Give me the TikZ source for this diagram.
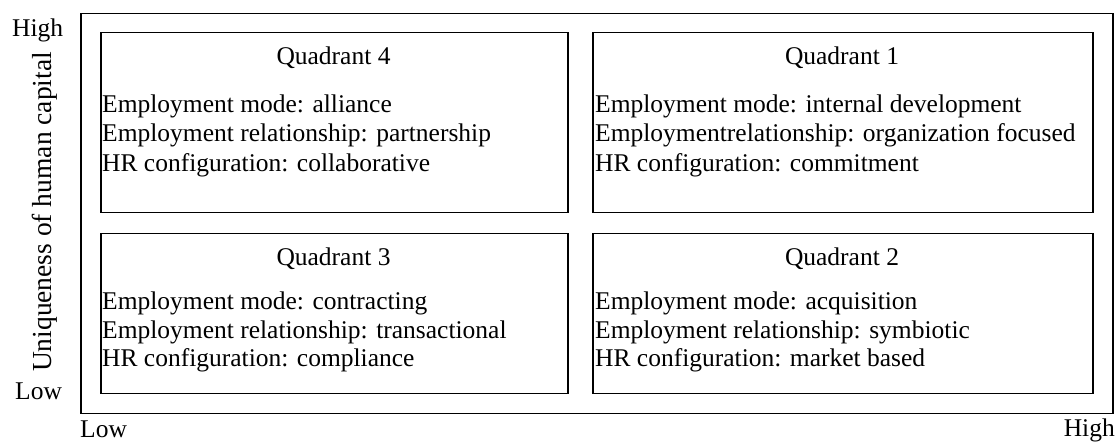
\documentclass[tikz,border=0pt]{standalone}
\usepackage{fontspec}
\setmainfont{Liberation Serif}

\begin{document}
\begin{tikzpicture}[x=1pt,y=-1pt,
    frame/.style={draw,line width=1.5pt,inner sep=0pt,anchor=north west},
    txt/.style={inner sep=0pt,anchor=base west,font=\fontsize{25.5}{28}\selectfont},
    title/.style={txt,anchor=base}]
      \useasboundingbox (0,0) rectangle (1120,446);

      % outer frame and axis labels
      \draw (80,13) node [frame,minimum width=1032pt,minimum height=400pt] (outer) {};
      \draw (12,37) node [txt] (yhigh) {High};
      \draw (15,400) node [txt] (ylow) {Low};
      \draw (80,438) node [txt] (xlow) {Low};
      \draw (1115,437) node [txt,anchor=base east] (xhigh) {High};
      \draw (45,212) node [txt,anchor=center,rotate=90,font=\fontsize{27.5}{30}\selectfont] (yaxis) {Uniqueness of human capital};

      % quadrant 4
      \draw (100,32) node [frame,minimum width=467pt,minimum height=180pt] (q4) {};
      \draw (333.5,65) node [title] (q4t) {Quadrant 4};
      \draw (102,112.5) node [txt] (q4a) {Employment mode: alliance};
      \draw (102,142) node [txt] (q4b) {Employment relationship: partnership};
      \draw (102,171.5) node [txt] (q4c) {HR configuration: collaborative};

      % quadrant 1
      \draw (592,32) node [frame,minimum width=500pt,minimum height=180pt] (q1) {};
      \draw (842,65) node [title] (q1t) {Quadrant 1};
      \draw (595,112.5) node [txt] (q1a) {Employment mode: internal development};
      \draw (595,142) node [txt] (q1b) {Employmentrelationship: organization focused};
      \draw (595,171.5) node [txt] (q1c) {HR configuration: commitment};

      % quadrant 3
      \draw (100,233) node [frame,minimum width=467pt,minimum height=160pt] (q3) {};
      \draw (333.5,266) node [title] (q3t) {Quadrant 3};
      \draw (102,310) node [txt] (q3a) {Employment mode: contracting};
      \draw (102,338.5) node [txt] (q3b) {Employment relationship: transactional};
      \draw (102,367) node [txt] (q3c) {HR configuration: compliance};

      % quadrant 2
      \draw (592,233) node [frame,minimum width=500pt,minimum height=160pt] (q2) {};
      \draw (842,266) node [title] (q2t) {Quadrant 2};
      \draw (595,310) node [txt] (q2a) {Employment mode: acquisition};
      \draw (595,338.5) node [txt] (q2b) {Employment relationship: symbiotic};
      \draw (595,367) node [txt] (q2c) {HR configuration: market based};
    \end{tikzpicture}
\end{document}
